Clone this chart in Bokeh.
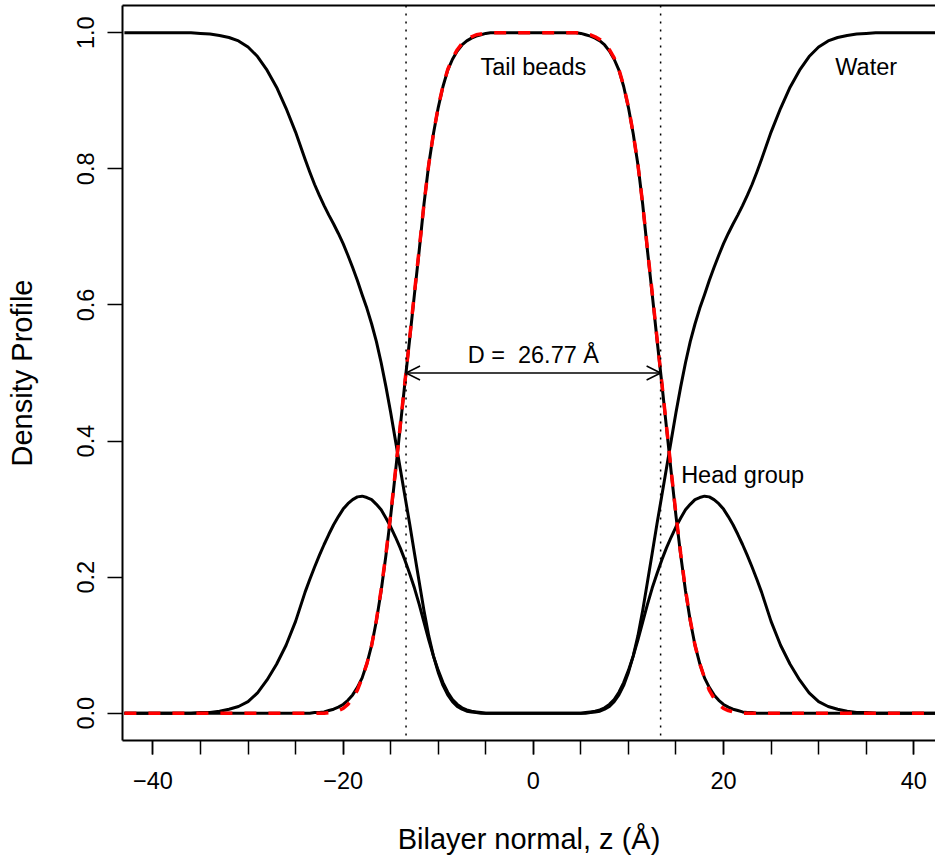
from bokeh.plotting import figure
from bokeh.models import Range1d, FixedTicker, LinearAxis, Span, Arrow, OpenHead, Label
from bokeh.embed import file_html
from bokeh.resources import INLINE

# ---------------- data ----------------
# sample positions along the bilayer normal (Angstrom): coarse in the flat
# outer regions, half-Angstrom steps in the middle
z = list(range(-43, -24)) + [i * 0.5 for i in range(-48, 49)] + list(range(25, 44))

tail_beads = (
    [0.0] * 19 +
    [0.0, 0.0, 0.001, 0.001, 0.002, 0.004, 0.006, 0.009,
     0.013, 0.019, 0.027, 0.038, 0.052, 0.073, 0.100, 0.136,
     0.180, 0.232, 0.290, 0.354, 0.420, 0.486, 0.550, 0.616,
     0.680, 0.748, 0.806, 0.852, 0.890, 0.921, 0.945, 0.961,
     0.973, 0.982, 0.988, 0.992, 0.995, 0.997, 0.999, 1.0,
     1.0, 1.0, 1.0, 1.0, 1.0, 1.0, 1.0, 1.0] +
    [1.0] +
    [1.0, 1.0, 1.0, 1.0, 1.0, 1.0, 1.0, 1.0,
     1.0, 0.999, 0.997, 0.995, 0.992, 0.988, 0.982, 0.973,
     0.961, 0.945, 0.921, 0.890, 0.852, 0.806, 0.748, 0.680,
     0.616, 0.550, 0.486, 0.420, 0.354, 0.290, 0.232, 0.180,
     0.136, 0.100, 0.073, 0.052, 0.038, 0.027, 0.019, 0.013,
     0.009, 0.006, 0.004, 0.002, 0.001, 0.001, 0.0, 0.0] +
    [0.0] * 19
)

tail_fit = (
    [0.0] * 19 +
    [0.0, 0.0, 0.0, 0.0, 0.0, 0.001, 0.002, 0.004,
     0.007, 0.013, 0.022, 0.034, 0.052, 0.073, 0.100, 0.137,
     0.182, 0.234, 0.292, 0.356, 0.422, 0.487, 0.552, 0.618,
     0.682, 0.748, 0.806, 0.852, 0.891, 0.922, 0.946, 0.963,
     0.975, 0.984, 0.990, 0.994, 0.997, 0.998, 0.999, 1.0,
     1.0, 1.0, 1.0, 1.0, 1.0, 1.0, 1.0, 1.0] +
    [1.0] +
    [1.0, 1.0, 1.0, 1.0, 1.0, 1.0, 1.0, 1.0,
     1.0, 0.999, 0.998, 0.997, 0.994, 0.990, 0.984, 0.975,
     0.963, 0.946, 0.922, 0.891, 0.852, 0.806, 0.748, 0.682,
     0.618, 0.552, 0.487, 0.422, 0.356, 0.292, 0.234, 0.182,
     0.137, 0.100, 0.073, 0.052, 0.034, 0.022, 0.013, 0.007,
     0.004, 0.002, 0.001, 0.0, 0.0, 0.0, 0.0, 0.0] +
    [0.0] * 19
)

water = (
    [1.0, 1.0, 1.0, 1.0, 1.0, 1.0, 1.0, 1.0,
     0.999, 0.998, 0.996, 0.993, 0.988, 0.979, 0.965, 0.945, 0.920, 0.889, 0.854] +
    [0.814, 0.795, 0.777, 0.761, 0.746, 0.732, 0.719, 0.705,
     0.690, 0.673, 0.655, 0.636, 0.615, 0.595, 0.572, 0.546,
     0.515, 0.480, 0.442, 0.401, 0.360, 0.319, 0.278, 0.235,
     0.193, 0.151, 0.114, 0.084, 0.060, 0.041, 0.027, 0.017,
     0.010, 0.006, 0.003, 0.002, 0.001, 0.0, 0.0, 0.0,
     0.0, 0.0, 0.0, 0.0, 0.0, 0.0, 0.0, 0.0] +
    [0.0] +
    [0.0, 0.0, 0.0, 0.0, 0.0, 0.0, 0.0, 0.0,
     0.0, 0.0, 0.0, 0.001, 0.002, 0.003, 0.006, 0.010,
     0.017, 0.027, 0.041, 0.060, 0.084, 0.114, 0.151, 0.193,
     0.235, 0.278, 0.319, 0.360, 0.401, 0.442, 0.480, 0.515,
     0.546, 0.572, 0.595, 0.615, 0.636, 0.655, 0.673, 0.690,
     0.705, 0.719, 0.732, 0.746, 0.761, 0.777, 0.795, 0.814] +
    [0.854, 0.889, 0.920, 0.945, 0.965, 0.979, 0.988, 0.993, 0.996, 0.998, 0.999,
     1.0, 1.0, 1.0, 1.0, 1.0, 1.0, 1.0, 1.0]
)

head_group = (
    [0.0, 0.0, 0.0, 0.0, 0.0, 0.0, 0.0, 0.0,
     0.001, 0.001, 0.003, 0.006, 0.010, 0.017, 0.030, 0.049, 0.072, 0.100, 0.135] +
    [0.178, 0.197, 0.215, 0.232, 0.248, 0.263, 0.277, 0.289,
     0.300, 0.308, 0.314, 0.318, 0.319, 0.317, 0.314, 0.307,
     0.299, 0.287, 0.274, 0.259, 0.243, 0.225, 0.205, 0.184,
     0.160, 0.134, 0.108, 0.084, 0.063, 0.045, 0.031, 0.020,
     0.013, 0.008, 0.005, 0.003, 0.002, 0.001, 0.0, 0.0,
     0.0, 0.0, 0.0, 0.0, 0.0, 0.0, 0.0, 0.0] +
    [0.0] +
    [0.0, 0.0, 0.0, 0.0, 0.0, 0.0, 0.0, 0.0,
     0.0, 0.0, 0.001, 0.002, 0.003, 0.005, 0.008, 0.013,
     0.020, 0.031, 0.045, 0.063, 0.084, 0.108, 0.134, 0.160,
     0.184, 0.205, 0.225, 0.243, 0.259, 0.274, 0.287, 0.299,
     0.307, 0.314, 0.317, 0.319, 0.318, 0.314, 0.308, 0.300,
     0.289, 0.277, 0.263, 0.248, 0.232, 0.215, 0.197, 0.178] +
    [0.135, 0.100, 0.072, 0.049, 0.030, 0.017, 0.010, 0.006, 0.003, 0.001, 0.001,
     0.0, 0.0, 0.0, 0.0, 0.0, 0.0, 0.0, 0.0]
)

thickness_D = 26.77
bilayer_edges = [-thickness_D / 2, thickness_D / 2]

x_ticks = [-40, -20, 0, 20, 40]
x_tick_labels = ["\u221240", "\u221220", "0", "20", "40"]
x_minor_ticks = [-40, -35, -30, -25, -20, -15, -10, -5, 0, 5, 10, 15, 20, 25, 30, 35, 40]
y_ticks = [0.0, 0.2, 0.4, 0.6, 0.8, 1.0]
y_tick_labels = ["0.0", "0.2", "0.4", "0.6", "0.8", "1.0"]

# ---------------- figure ----------------
FONT = "Liberation Sans"
FS = "23.5px"
FS_TITLE = "29px"

p = figure(width=935, height=861,
           x_range=Range1d(-43.2, 42.29), y_range=Range1d(-0.04, 1.04),
           output_backend="svg", toolbar_location=None,
           min_border_left=122, min_border_right=0,
           min_border_top=5, min_border_bottom=121)
p.outline_line_color = None
p.grid.visible = False
p.background_fill_color = "white"
p.border_fill_color = "white"

# bottom axis
xa = p.xaxis[0]
xa.ticker = FixedTicker(ticks=x_ticks, minor_ticks=x_minor_ticks)
xa.major_label_overrides = dict(zip(x_ticks, x_tick_labels))
xa.axis_label = "Bilayer normal, z (\u00c5)"
xa.major_tick_out = 14
xa.major_tick_in = 0
xa.minor_tick_out = 14
xa.minor_tick_in = 0
xa.major_label_standoff = 17
xa.axis_label_standoff = 31

# left axis
ya = p.yaxis[0]
ya.ticker = FixedTicker(ticks=y_ticks, minor_ticks=[])
ya.major_label_overrides = dict(zip(y_ticks, y_tick_labels))
ya.axis_label = "Density Profile"
ya.major_tick_out = 15
ya.major_tick_in = 0
ya.minor_tick_out = 0
ya.minor_tick_in = 0
ya.major_label_orientation = "vertical"
ya.major_label_standoff = 13
ya.axis_label_standoff = 37

for ax in (xa, ya):
    ax.axis_line_width = 2
    ax.axis_line_color = "black"
    ax.major_tick_line_width = 1.5
    ax.major_tick_line_color = "black"
    ax.minor_tick_line_width = 1.5
    ax.minor_tick_line_color = "black"
    ax.major_label_text_font = FONT
    ax.major_label_text_font_size = FS
    ax.major_label_text_color = "black"
    ax.axis_label_text_font = FONT
    ax.axis_label_text_font_size = FS_TITLE
    ax.axis_label_text_font_style = "normal"
    ax.axis_label_text_color = "black"

# top border of the box
top = LinearAxis(ticker=FixedTicker(ticks=[]), axis_line_width=2, axis_line_color="black",
                 major_tick_out=0, major_tick_in=0, minor_tick_out=0, minor_tick_in=0,
                 major_label_text_font_size="0px")
p.add_layout(top, "above")

# curves
p.line(z, water, line_color="black", line_width=3, line_join="round")
p.line(z, head_group, line_color="black", line_width=3, line_join="round")
p.line(z, tail_beads, line_color="black", line_width=3, line_join="round")
p.line(z, tail_fit, line_color="#ff0000", line_width=3.5, line_dash="12 12")

# bilayer edges
for e in bilayer_edges:
    p.add_layout(Span(location=e, dimension="height", line_color="black",
                      line_width=1.5, line_dash="2 6"))

# thickness arrow
p.add_layout(Arrow(start=OpenHead(size=14, line_width=1.5, line_color="black"),
                   end=OpenHead(size=14, line_width=1.5, line_color="black"),
                   x_start=bilayer_edges[0], y_start=0.5,
                   x_end=bilayer_edges[1], y_end=0.5,
                   line_width=1.5, line_color="black"))

def lab(x, y, t):
    p.add_layout(Label(x=x, y=y, text=t, text_align="center", text_baseline="middle",
                       text_font=FONT, text_font_size=FS, text_color="black"))

lab(0, 0.526, "D = \u00a0%.2f \u00c5" % thickness_D)
lab(0, 0.95, "Tail beads")
lab(35, 0.95, "Water")
lab(22, 0.35, "Head group")

open("out.html", "w").write(file_html(p, INLINE))
